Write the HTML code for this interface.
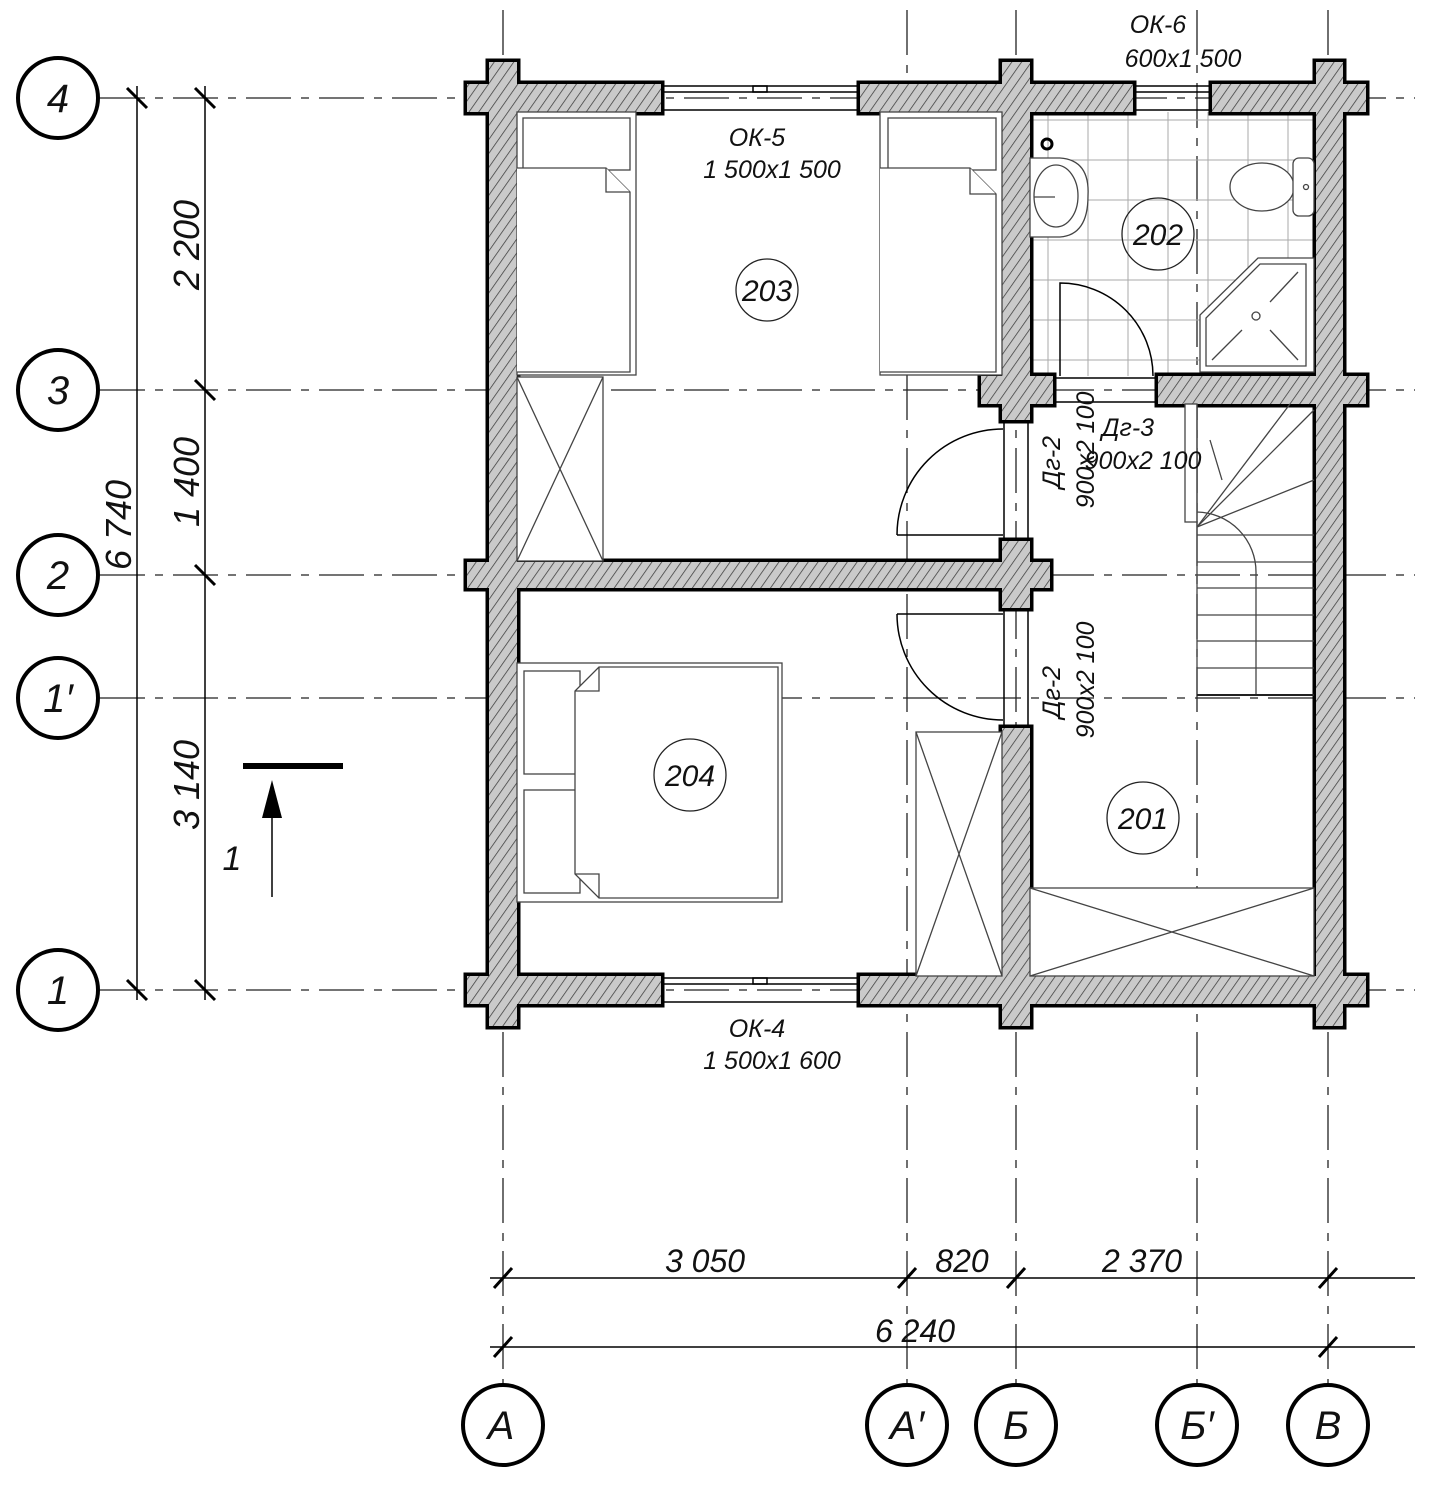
<!DOCTYPE html>
<html><head><meta charset="utf-8"><style>
html,body{margin:0;padding:0;background:#fff}
svg{display:block}
text{font-family:"Liberation Sans",sans-serif;font-style:italic;fill:#111}
</style></head><body>
<svg width="1433" height="1500" viewBox="0 0 1433 1500" xmlns="http://www.w3.org/2000/svg">
<defs>
<pattern id="h" width="8" height="8" patternUnits="userSpaceOnUse" patternTransform="rotate(35)">
<rect width="8" height="8" fill="#cacaca"/><line x1="0" y1="0" x2="0" y2="8" stroke="#3a3a3a" stroke-width="1.5"/>
</pattern>
</defs>

<g stroke="#222" stroke-width="1.3" stroke-dasharray="45,10,8,10" fill="none">
<line x1="100" y1="98" x2="1415" y2="98"/>
<line x1="100" y1="390" x2="1415" y2="390"/>
<line x1="100" y1="575" x2="1415" y2="575"/>
<line x1="100" y1="698" x2="1415" y2="698"/>
<line x1="100" y1="990" x2="1415" y2="990"/>
<line x1="503" y1="10" x2="503" y2="1385"/>
<line x1="907" y1="10" x2="907" y2="1385"/>
<line x1="1016" y1="10" x2="1016" y2="1385"/>
<line x1="1197" y1="10" x2="1197" y2="1385"/>
<line x1="1328" y1="10" x2="1328" y2="1385"/>
</g>

<g stroke="#aaa" stroke-width="1">
<line x1="1048" y1="112" x2="1048" y2="376"/><line x1="1088" y1="112" x2="1088" y2="376"/><line x1="1128" y1="112" x2="1128" y2="376"/><line x1="1168" y1="112" x2="1168" y2="376"/><line x1="1208" y1="112" x2="1208" y2="376"/><line x1="1248" y1="112" x2="1248" y2="376"/><line x1="1288" y1="112" x2="1288" y2="376"/>
<line x1="1030" y1="120" x2="1314" y2="120"/><line x1="1030" y1="160" x2="1314" y2="160"/><line x1="1030" y1="200" x2="1314" y2="200"/><line x1="1030" y1="240" x2="1314" y2="240"/><line x1="1030" y1="280" x2="1314" y2="280"/><line x1="1030" y1="320" x2="1314" y2="320"/><line x1="1030" y1="360" x2="1314" y2="360"/>
</g>

<g fill="#000" stroke="#000" stroke-width="7">
<rect x="467" y="84" width="194" height="28"/><rect x="860" y="84" width="273" height="28"/><rect x="1212" y="84" width="154" height="28"/>
<rect x="489" y="62" width="28" height="40"/><rect x="1002" y="62" width="28" height="40"/><rect x="1316" y="62" width="27" height="40"/>
<rect x="489" y="84" width="28" height="942"/><rect x="1316" y="84" width="27" height="942"/>
<rect x="467" y="976" width="194" height="28"/><rect x="860" y="976" width="506" height="28"/>
<rect x="1002" y="976" width="28" height="50"/>
<rect x="1002" y="84" width="28" height="336"/><rect x="981" y="376" width="72" height="28"/>
<rect x="1158" y="376" width="208" height="28"/>
<rect x="467" y="562" width="583" height="26"/><rect x="1002" y="541" width="28" height="67"/>
<rect x="1002" y="728" width="28" height="260"/>
</g>
<g fill="url(#h)">
<rect x="467" y="84" width="194" height="28"/><rect x="860" y="84" width="273" height="28"/><rect x="1212" y="84" width="154" height="28"/>
<rect x="489" y="62" width="28" height="40"/><rect x="1002" y="62" width="28" height="40"/><rect x="1316" y="62" width="27" height="40"/>
<rect x="489" y="84" width="28" height="942"/><rect x="1316" y="84" width="27" height="942"/>
<rect x="467" y="976" width="194" height="28"/><rect x="860" y="976" width="506" height="28"/>
<rect x="1002" y="976" width="28" height="50"/>
<rect x="1002" y="84" width="28" height="336"/><rect x="981" y="376" width="72" height="28"/>
<rect x="1158" y="376" width="208" height="28"/>
<rect x="467" y="562" width="583" height="26"/><rect x="1002" y="541" width="28" height="67"/>
<rect x="1002" y="728" width="28" height="260"/>
</g>

<g stroke="#000" stroke-width="1.5" fill="none">
<line x1="661" y1="86" x2="860" y2="86"/><line x1="661" y1="92" x2="860" y2="92"/><line x1="661" y1="110" x2="860" y2="110"/>
<rect x="753" y="86" width="14" height="6"/>
<line x1="661" y1="978" x2="860" y2="978"/><line x1="661" y1="984" x2="860" y2="984"/><line x1="661" y1="1002" x2="860" y2="1002"/>
<rect x="753" y="978" width="14" height="6"/>
<line x1="1133" y1="86" x2="1212" y2="86"/><line x1="1133" y1="92" x2="1212" y2="92"/><line x1="1133" y1="110" x2="1212" y2="110"/>
<line x1="1004" y1="420" x2="1004" y2="541"/><line x1="1028" y1="420" x2="1028" y2="541"/>
<line x1="1004" y1="608" x2="1004" y2="728"/><line x1="1028" y1="608" x2="1028" y2="728"/>
<line x1="1053" y1="378" x2="1158" y2="378"/><line x1="1053" y1="402" x2="1158" y2="402"/>
<path d="M897 535 L1003 535 M897 535 A106 106 0 0 1 1003 429"/>
<path d="M897 614 L1003 614 M897 614 A106 106 0 0 0 1003 720"/>
<path d="M1060 376 L1060 283 A93 93 0 0 1 1153 376"/>
</g>

<g stroke="#444" stroke-width="1.3" fill="#fff">
<rect x="517" y="112" width="119" height="263"/>
<rect x="523" y="118" width="107" height="52" fill="none"/>
<path d="M517 168 L606 168 L630 192 L630 372 L517 372"/><path d="M606 168 L606 192 L630 192"/>
<rect x="880" y="112" width="122" height="263"/>
<rect x="888" y="118" width="108" height="52" fill="none"/>
<path d="M880 168 L970 168 L996 194 L996 372 L880 372"/><path d="M970 168 L970 194 L996 194"/>
<rect x="517" y="377" width="86" height="184"/>
<path d="M517 377 L603 561 M603 377 L517 561" fill="none"/>
<rect x="517" y="663" width="265" height="239"/>
<rect x="524" y="671" width="56" height="103"/><rect x="524" y="790" width="56" height="103"/>
<path d="M599 667 L778 667 L778 898 L599 898 L575 874 L575 691 Z"/>
<path d="M599 667 L599 691 L575 691 M599 898 L599 874 L575 874" fill="none"/>
<rect x="916" y="732" width="86" height="244"/>
<path d="M916 732 L1002 976 M1002 732 L916 976" fill="none"/>
<rect x="1030" y="888" width="284" height="88"/>
<path d="M1030 888 L1314 976 M1314 888 L1030 976" fill="none"/>
<rect x="1185" y="404" width="12" height="118" fill="#fff"/>
<line x1="1197" y1="404" x2="1197" y2="695"/>
<path d="M1197 512 A60 60 0 0 1 1256 572 L1256 695" fill="none"/>
<g fill="none">
<line x1="1197" y1="527" x2="1290" y2="404"/><line x1="1197" y1="527" x2="1314" y2="410"/><line x1="1197" y1="527" x2="1314" y2="480"/>
<line x1="1197" y1="535" x2="1314" y2="535"/><line x1="1197" y1="562" x2="1314" y2="562"/><line x1="1197" y1="588" x2="1314" y2="588"/><line x1="1197" y1="615" x2="1314" y2="615"/><line x1="1197" y1="641" x2="1314" y2="641"/><line x1="1197" y1="668" x2="1314" y2="668"/>
<line x1="1197" y1="695" x2="1314" y2="695" stroke="#222" stroke-width="2"/>
<line x1="1210" y1="440" x2="1222" y2="480"/>
</g>
<path d="M1030 158 L1060 158 Q1090 160 1088 196 Q1088 235 1060 237 L1030 237 Z"/>
<ellipse cx="1056" cy="196" rx="22" ry="31" fill="none"/>
<line x1="1034" y1="197" x2="1055" y2="197"/>
<ellipse cx="1262" cy="187" rx="32" ry="24"/>
<rect x="1293" y="158" width="21" height="58" rx="6"/>
<circle cx="1306" cy="187" r="2.5" fill="none"/>
<path d="M1200 372 L1200 315 L1258 258 L1314 258 L1314 372 Z"/>
<path d="M1206 366 L1206 318 L1260 264 L1306 264 L1306 366 Z" fill="none"/>
<circle cx="1256" cy="316" r="4" fill="none"/>
<path d="M1270 302 L1298 272 M1242 330 L1212 360 M1270 330 L1298 360" fill="none"/>
</g>
<circle cx="1047" cy="144" r="5" fill="none" stroke="#000" stroke-width="3"/>

<g fill="none" stroke="#222" stroke-width="1.3">
<circle cx="767" cy="290" r="31"/><circle cx="1158" cy="234" r="36"/><circle cx="690" cy="775" r="36"/><circle cx="1143" cy="818" r="36"/>
</g>
<g font-size="30" text-anchor="middle">
<text x="767" y="301">203</text><text x="1158" y="245">202</text><text x="690" y="786">204</text><text x="1143" y="829">201</text>
</g>

<g font-size="25" text-anchor="middle">
<text x="757" y="146">ОК-5</text><text x="772" y="178">1 500x1 500</text>
<text x="1158" y="33">ОК-6</text><text x="1183" y="67">600x1 500</text>
<text x="757" y="1037">ОК-4</text><text x="772" y="1069">1 500x1 600</text>
<text x="1128" y="436">Дг-3</text><text x="1143" y="469">900x2 100</text>
<text transform="translate(1060,462) rotate(-90)">Дг-2</text>
<text transform="translate(1094,450) rotate(-90)">900x2 100</text>
<text transform="translate(1060,692) rotate(-90)">Дг-2</text>
<text transform="translate(1094,680) rotate(-90)">900x2 100</text>
</g>

<g stroke="#000" stroke-width="1.5">
<line x1="137" y1="86" x2="137" y2="1000"/><line x1="205" y1="86" x2="205" y2="1000"/>
</g>
<g stroke="#000" stroke-width="3">
<line x1="127" y1="88" x2="147" y2="108"/><line x1="195" y1="88" x2="215" y2="108"/>
<line x1="195" y1="380" x2="215" y2="400"/><line x1="195" y1="565" x2="215" y2="585"/>
<line x1="127" y1="980" x2="147" y2="1000"/><line x1="195" y1="980" x2="215" y2="1000"/>
</g>
<g font-size="36" text-anchor="middle">
<text transform="translate(199,245) rotate(-90)">2 200</text>
<text transform="translate(199,482) rotate(-90)">1 400</text>
<text transform="translate(199,785) rotate(-90)">3 140</text>
<text transform="translate(131,525) rotate(-90)">6 740</text>
</g>

<g stroke="#000" stroke-width="1.5">
<line x1="490" y1="1278" x2="1415" y2="1278"/><line x1="490" y1="1347" x2="1415" y2="1347"/>
</g>
<g stroke="#000" stroke-width="3">
<line x1="494" y1="1288" x2="512" y2="1268"/><line x1="898" y1="1288" x2="916" y2="1268"/><line x1="1007" y1="1288" x2="1025" y2="1268"/><line x1="1319" y1="1288" x2="1337" y2="1268"/>
<line x1="494" y1="1357" x2="512" y2="1337"/><line x1="1319" y1="1357" x2="1337" y2="1337"/>
</g>
<g font-size="32" text-anchor="middle">
<text x="705" y="1272">3 050</text><text x="962" y="1272">820</text><text x="1142" y="1272">2 370</text><text x="915" y="1342">6 240</text>
</g>

<line x1="243" y1="766" x2="343" y2="766" stroke="#000" stroke-width="6"/>
<line x1="272" y1="800" x2="272" y2="897" stroke="#000" stroke-width="1.5"/>
<polygon points="272,780 262,818 282,818" fill="#000"/>
<text x="232" y="870" font-size="34" text-anchor="middle">1</text>

<g fill="#fff" stroke="#000" stroke-width="4">
<circle cx="58" cy="98" r="40"/><circle cx="58" cy="390" r="40"/><circle cx="58" cy="575" r="40"/><circle cx="58" cy="698" r="40"/><circle cx="58" cy="990" r="40"/>
<circle cx="503" cy="1425" r="40"/><circle cx="907" cy="1425" r="40"/><circle cx="1016" cy="1425" r="40"/><circle cx="1197" cy="1425" r="40"/><circle cx="1328" cy="1425" r="40"/>
</g>
<g font-size="40" text-anchor="middle">
<text x="58" y="112">4</text><text x="58" y="404">3</text><text x="58" y="589">2</text><text x="58" y="712">1′</text><text x="58" y="1004">1</text>
<text x="501" y="1439">А</text><text x="907" y="1439">А′</text><text x="1016" y="1439">Б</text><text x="1197" y="1439">Б′</text><text x="1328" y="1439">В</text>
</g>
</svg>
</body></html>
